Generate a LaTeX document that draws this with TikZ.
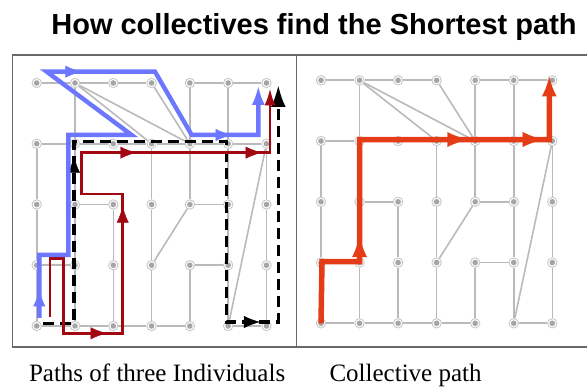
\documentclass[tikz,border=0pt]{standalone}
\usepackage{fontspec}
\setmainfont{Liberation Serif}
\newfontfamily\headfont{Liberation Sans}
\usepackage{tikz}
\usetikzlibrary{arrows.meta,
                calc,
                decorations.markings}

\definecolor{linkgray}{RGB}{186,186,186}
\definecolor{ringgray}{RGB}{200,200,200}
\definecolor{dotgray}{RGB}{165,165,165}
\definecolor{framegray}{RGB}{105,105,105}
\definecolor{antblue}{RGB}{108,118,255}
\definecolor{antred}{RGB}{162,8,18}
\definecolor{bestorange}{RGB}{228,60,22}

\tikzset{
  site/.style={circle, draw=ringgray, fill=white, line width=0.9pt,
               inner sep=0pt, minimum size=9.4pt,
               path picture={\fill[dotgray] (path picture bounding box.center) circle (2.8pt);}},
  gridline/.style={linkgray, line width=1.6pt},
  smalltip/.tip={Latex[length=16pt,width=12pt]},
  bigtip/.tip={Latex[length=20pt,width=15pt]},
  tipat/.style={postaction={decorate,
      decoration={markings, mark=at position #1 with {\arrow{smalltip}}}}},
  bluetrail/.style={antblue, line width=4.4pt, line join=miter},
  redtrail/.style={antred, line width=2.7pt, line join=miter},
  blacktrail/.style={black, line width=3.2pt, dash pattern=on 11pt off 6pt},
  besttrail/.style={bestorange, line width=5.5pt, line join=miter},
}

\begin{document}
\begin{tikzpicture}[x=1pt, y=1pt]
\useasboundingbox (0,0) rectangle (587,388);

\node[anchor=base, font=\headfont\bfseries\fontsize{29}{34}\selectfont]
  (title) at (314,353.5) {How collectives find the Shortest path};

% frame and the line between the two panels
\draw[framegray, line width=1.3pt] (590,333) -- (12.5,333) -- (12.5,41) -- (590,41);
\draw[framegray, line width=1pt] (296,333) -- (296,41);

% sites: a = individual panel, b = collective panel
\foreach \c in {0,...,6}
  \foreach \r in {0,...,4} {
    \node[site] (a-\c-\r) at ({36.7+38.3*\c}, {62+60.75*\r}) {};
    \node[site] (b-\c-\r) at ({321+38.55*\c}, {64.7+60.75*\r}) {};
  }

% the same network in both panels
\foreach \p in {a,b}
  \foreach \s/\t in {0-4/1-4, 1-4/2-4, 2-4/3-4, 4-4/5-4, 5-4/6-4,
                     1-4/3-3, 1-4/4-3, 3-4/4-3, 1-4/1-3, 4-4/4-3, 4-3/4-2,
                     5-4/5-3, 5-3/5-2, 5-2/5-1, 5-1/5-0,
                     0-3/0-2, 0-2/0-1, 0-1/0-0,
                     1-3/1-2, 1-2/1-1, 1-1/1-0,
                     2-2/2-1, 2-1/2-0,
                     3-3/3-2, 3-2/3-1, 3-1/3-0,
                     4-1/4-0, 6-3/6-2, 6-2/6-1, 6-1/6-0,
                     0-3/1-3, 1-3/2-3, 2-3/3-3, 3-3/4-3, 4-3/5-3, 5-3/6-3,
                     1-2/2-2, 4-2/5-2, 0-1/1-1, 4-1/5-1,
                     0-0/1-0, 1-0/2-0, 2-0/3-0, 3-0/4-0, 5-0/6-0,
                     4-2/3-1, 6-3/5-0}
    \draw[gridline] (\p-\s) -- (\p-\t);

% black individual
\coordinate (bk1) at ($(a-0-0)+(6.6,2.7)$);
\coordinate (bk2) at ($(a-1-0)+(-1,2.7)$);
\coordinate (bk3) at ($(a-1-3)+(-1,2.1)$);
\coordinate (bk4) at ($(a-5-3)+(-1.5,2.1)$);
\coordinate (bk5) at ($(a-5-0)+(-1.5,4)$);
\coordinate (bk6) at ($(a-6-0)+(11.8,4)$);
\coordinate (bk7) at ($(a-6-4)+(11.8,-2)$);
\draw[blacktrail, -{Latex[length=22pt,width=15pt]}]
  (bk1) -- (bk2) -- (bk3) -- (bk4) -- (bk5) -- (bk6) -- (bk7);
\path[black, tipat=0.917] (bk2) -- (bk3);
\path[black, tipat=0.645] (bk5) -- (bk6);

% red individual
\coordinate (rd1) at ($(a-0-0)+(13.3,9.3)$);
\coordinate (rd2) at ($(a-0-1)+(13.3,6.4)$);
\coordinate (rd3) at ($(a-1-1)+(-11.7,6.4)$);
\coordinate (rd4) at ($(a-1-0)+(-11.7,-7.3)$);
\coordinate (rd5) at ($(a-2-0)+(9.4,-7.3)$);
\coordinate (rd6) at ($(a-2-2)+(9.4,10.5)$);
\coordinate (rd7) at ($(a-1-2)+(6.7,10.5)$);
\coordinate (rd8) at ($(a-1-3)+(6.7,-8.9)$);
\coordinate (rd9) at ($(a-6-3)+(3.5,-8.9)$);
\coordinate (rd10) at ($(a-6-4)+(3.5,-5.3)$);
\draw[redtrail, -{Latex[length=17pt,width=11pt]}]
  (rd1) -- (rd2) -- (rd3) -- (rd4) -- (rd5) -- (rd6) -- (rd7) -- (rd8) -- (rd9) -- (rd10);
\path[antred, tipat=0.73] (rd4) -- (rd5);
\path[antred, tipat=0.91] (rd5) -- (rd6);
\path[antred, tipat=0.29, tipat=0.956] (rd8) -- (rd9);

% blue individual
\coordinate (bl1) at ($(a-0-0)+(2.6,8)$);
\coordinate (bl2) at ($(a-0-1)+(2.6,10.3)$);
\coordinate (bl3) at ($(a-1-1)+(-6.7,10.3)$);
\coordinate (bl4) at ($(a-1-3)+(-6.7,8.8)$);
\coordinate (bl5) at ($(a-3-3)+(-20,8.8)$);
\coordinate (bl6) at ($(a-0-4)+(10,11.3)$);
\coordinate (bl7) at ($(a-3-4)+(3.4,11.3)$);
\coordinate (bl8) at ($(a-4-3)+(1.8,8.8)$);
\coordinate (bl9) at ($(a-6-3)+(-8.2,8.8)$);
\coordinate (bl10) at ($(a-6-4)+(-8.2,-2)$);
\draw[bluetrail, -{Latex[length=20pt,width=13pt]}]
  (bl1) -- (bl2) -- (bl3) -- (bl4) -- (bl5) -- (bl6) -- (bl7) -- (bl8) -- (bl9) -- (bl10);
\path[antblue, tipat=0.44] (bl1) -- (bl2);
\path[antblue, tipat=0.32] (bl6) -- (bl7);
\path[antblue, tipat=0.6] (bl8) -- (bl9);

% collective path
\coordinate (cp1) at (b-0-0.center);
\coordinate (cp2) at ($(b-0-1)+(1,1)$);
\coordinate (cp3) at ($(b-1-1)+(0,1)$);
\coordinate (cp4) at ($(b-1-3)+(0,1.5)$);
\coordinate (cp5) at ($(b-6-3)+(-3,1.5)$);
\coordinate (cp6) at ($(b-6-4)+(-3,5)$);
\draw[besttrail, -{Latex[length=21pt,width=15pt]}]
  (cp1) -- (cp2) -- (cp3) -- (cp4) -- (cp5) -- (cp6);
\path[bestorange, postaction={decorate, decoration={markings,
      mark=at position 0.2 with {\arrow{bigtip}}}}] (cp3) -- (cp4);
\path[bestorange, postaction={decorate, decoration={markings,
      mark=at position 0.568 with {\arrow{bigtip}},
      mark=at position 0.965 with {\arrow{bigtip}}}}] (cp4) -- (cp5);

\node[anchor=base west, font=\fontsize{25}{30}\selectfont]
  (leftcap) at (25.5,6) {Paths of three Individuals};
\node[anchor=base west, font=\fontsize{25}{30}\selectfont]
  (rightcap) at (326,6) {Collective path};
\end{tikzpicture}
\end{document}
